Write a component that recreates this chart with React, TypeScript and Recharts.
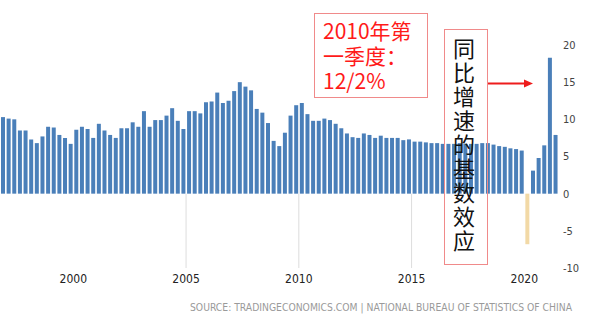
import { BarChart, Bar, XAxis, YAxis, Cell, ReferenceLine } from 'recharts'

// China GDP growth rate, year on year, quarterly from 1996 Q4
const firstYear = 1996
const firstQuarter = 4
const growth = [
  10.3, 10.1, 10.0, 8.5, 8.5, 7.3, 6.8, 7.7, 9.0, 8.9, 7.9, 7.5, 6.7,
  8.6, 9.0, 8.7, 7.5, 9.4, 8.5, 7.9, 7.5, 8.8, 8.8, 9.6, 9.0, 11.1,
  9.0, 9.9, 9.9, 10.5, 11.5, 9.8, 8.7, 11.1, 11.1, 10.8, 12.3, 12.4,
  13.6, 12.2, 12.5, 13.8, 15.0, 14.4, 13.9, 11.4, 10.9, 9.5, 7.1, 6.4,
  8.2, 10.5, 11.9, 12.2, 10.7, 9.8, 9.8, 10.1, 9.9, 9.4, 8.8, 8.1,
  7.6, 7.5, 8.1, 7.9, 7.5, 7.8, 7.5, 7.5, 7.5, 7.2, 7.3, 7.0, 7.0,
  6.9, 6.8, 6.8, 6.7, 6.7, 6.7, 6.8, 6.7, 6.7, 6.7, 6.8, 6.8, 6.6,
  6.4, 6.3, 6.1, 6.0, 5.8, -6.8, 3.1, 4.8, 6.5, 18.3, 7.9,
]
const yearTicks = [2000, 2005, 2010, 2015, 2020]
const gridYears = [2005, 2010, 2015]
const valueTicks = [-10, -5, 0, 5, 10, 15, 20]
const sourceText = 'SOURCE: TRADINGECONOMICS.COM | NATIONAL BUREAU OF STATISTICS OF CHINA'
const noteLines = ['2010年第', '一季度：', '12/2%']
const sideNote = '同比增速的基数效应'

const data = growth.map((value, i) => {
  const n = firstQuarter - 1 + i
  const year = firstYear + Math.floor(n / 4)
  const quarter = (n % 4) + 1
  return { label: `${year} Q${quarter}`, t: year + (quarter - 1) / 4 + 0.125, value }
})

const narrow = "'Liberation Sans Narrow', 'DejaVu Sans Condensed', 'Liberation Sans', sans-serif"
const cjk = "'Noto Sans CJK SC', 'Noto Sans', sans-serif"

export default function App() {
  return (
    <div style={{ position: 'absolute', left: 0, top: 0, width: 600, height: 327, background: '#fff' }}>
      <BarChart width={600} height={327} data={data} margin={{ top: 45, right: 0, bottom: 29, left: 0 }}>
        <XAxis
          type="number"
          dataKey="t"
          domain={[1996.75, 2021.625]}
          ticks={yearTicks}
          interval={0}
          allowDataOverflow
          axisLine={false}
          tickLine={false}
          tickSize={0}
          tickMargin={6}
          height={30}
          tick={{ fontSize: 12, fill: '#222', fontFamily: narrow }}
        />
        <YAxis
          orientation="right"
          domain={[-10, 20]}
          ticks={valueTicks}
          interval={0}
          axisLine={false}
          tickLine={false}
          tickSize={0}
          tickMargin={2}
          width={39}
          tick={{ fontSize: 11, fill: '#444', fontFamily: narrow }}
        />
        {gridYears.map((yr) => (
          <ReferenceLine
            key={yr}
            segment={[{ x: yr, y: -10 }, { x: yr, y: 0 }]}
            stroke="#dddddd"
            strokeWidth={1}
            ifOverflow="visible"
          />
        ))}
        <Bar dataKey="value" barSize={4} isAnimationActive={false}>
          {data.map((d) => (
            <Cell key={d.label} fill={d.value < 0 ? '#f2d9a6' : '#4a7fb9'} />
          ))}
        </Bar>
      </BarChart>

      <svg width={600} height={327} style={{ position: 'absolute', left: 0, top: 0, pointerEvents: 'none' }}>
        <text
          x={190}
          y={311}
          textLength={382}
          lengthAdjust="spacingAndGlyphs"
          fontSize={11}
          fill="#9a9a9a"
          fontFamily={narrow}
        >
          {sourceText}
        </text>
        <line x1={488} y1={83.5} x2={526} y2={83.5} stroke="#ee1c1c" strokeWidth={2} />
        <polygon points="533,83.5 524,79.5 524,87.5" fill="#ee1c1c" />
      </svg>

      <div
        style={{
          position: 'absolute',
          left: 314,
          top: 13,
          width: 114,
          height: 85,
          border: '1.5px solid #f08a8a',
          boxSizing: 'border-box',
          padding: '4px 0 0 8px',
          color: '#ff1a1a',
          fontFamily: cjk,
          fontSize: 21,
          lineHeight: '25px',
        }}
      >
        {noteLines[0]}
        <br />
        {noteLines[1]}
        <br />
        {noteLines[2]}
      </div>

      <div
        style={{
          position: 'absolute',
          left: 444,
          top: 29,
          width: 44,
          height: 236,
          border: '1.5px solid #f08a8a',
          boxSizing: 'border-box',
          padding: '5px 0 0 8px',
          color: '#111',
          fontFamily: cjk,
          fontSize: 22,
          lineHeight: '24px',
        }}
      >
        <div style={{ width: 23 }}>{sideNote}</div>
      </div>
    </div>
  )
}
